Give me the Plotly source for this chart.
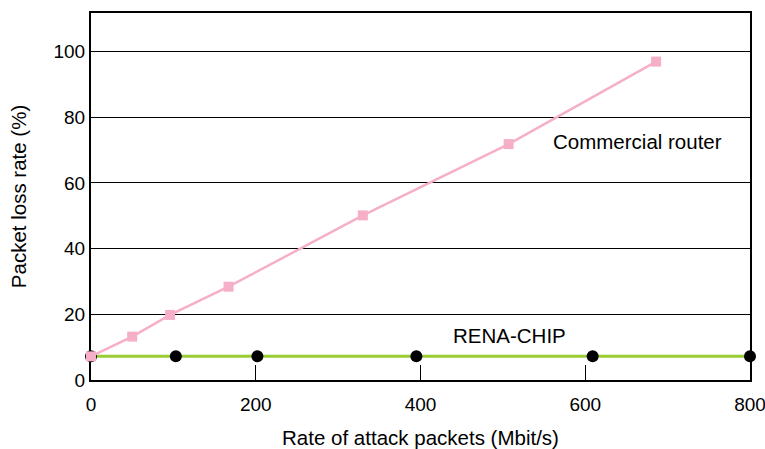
import plotly.graph_objects as go

router_x = [0, 50, 96, 167, 330, 507, 686]
router_y = [7.2, 13.2, 19.8, 28.4, 50.1, 71.8, 96.9]
rena_x = [0, 103, 202, 395, 609, 800]
rena_y = [7.2, 7.2, 7.2, 7.2, 7.2, 7.2]
x_ticks = [0, 200, 400, 600, 800]
y_ticks = [0, 20, 40, 60, 80, 100]

font = "Liberation Sans, Arial, sans-serif"

fig = go.Figure()
fig.add_trace(go.Scatter(x=rena_x, y=rena_y, mode="lines+markers",
                         line=dict(color="#99CC33", width=3),
                         marker=dict(color="black", size=12, symbol="circle"),
                         cliponaxis=False, name="RENA-CHIP"))
fig.add_trace(go.Scatter(x=router_x, y=router_y, mode="lines+markers",
                         line=dict(color="#F6AFC8", width=2.5),
                         marker=dict(color="#F6AFC8", size=10, symbol="square"),
                         cliponaxis=False, name="Commercial router"))

fig.add_annotation(x=663, y=72.7, text="Commercial router", showarrow=False,
                   font=dict(family=font, size=20.5, color="black"))
fig.add_annotation(x=508, y=13.5, text="RENA-CHIP", showarrow=False,
                   font=dict(family=font, size=20.5, color="black"))

fig.update_layout(
    width=765, height=449,
    margin=dict(l=91, r=15, t=13, b=69),
    plot_bgcolor="white", paper_bgcolor="white",
    showlegend=False,
    font=dict(family=font, size=19, color="black"),
)
fig.update_xaxes(range=[0, 800], tickvals=x_ticks, ticks="inside", ticklen=15,
                 tickcolor="black", tickwidth=1, automargin=False,
                 ticklabeloverflow="allow", ticklabelstandoff=6,
                 showline=True, linecolor="black", linewidth=2, mirror=True,
                 showgrid=False, zeroline=False, layer="below traces",
                 tickfont=dict(size=19),
                 title=dict(text="Rate of attack packets (Mbit/s)", font=dict(size=20.5), standoff=22))
fig.update_yaxes(range=[0, 111.7], tickvals=y_ticks, ticks="", automargin=False,
                 showline=True, linecolor="black", linewidth=2, mirror=True,
                 showgrid=True, gridcolor="black", gridwidth=1, zeroline=False,
                 layer="below traces",
                 tickfont=dict(size=19),
                 title=dict(text="Packet loss rate (%)", font=dict(size=20.5), standoff=21))

fig.write_html("out.html", config={"displayModeBar": False},
               post_script="document.body.style.margin='0';document.body.style.overflow='hidden';")
